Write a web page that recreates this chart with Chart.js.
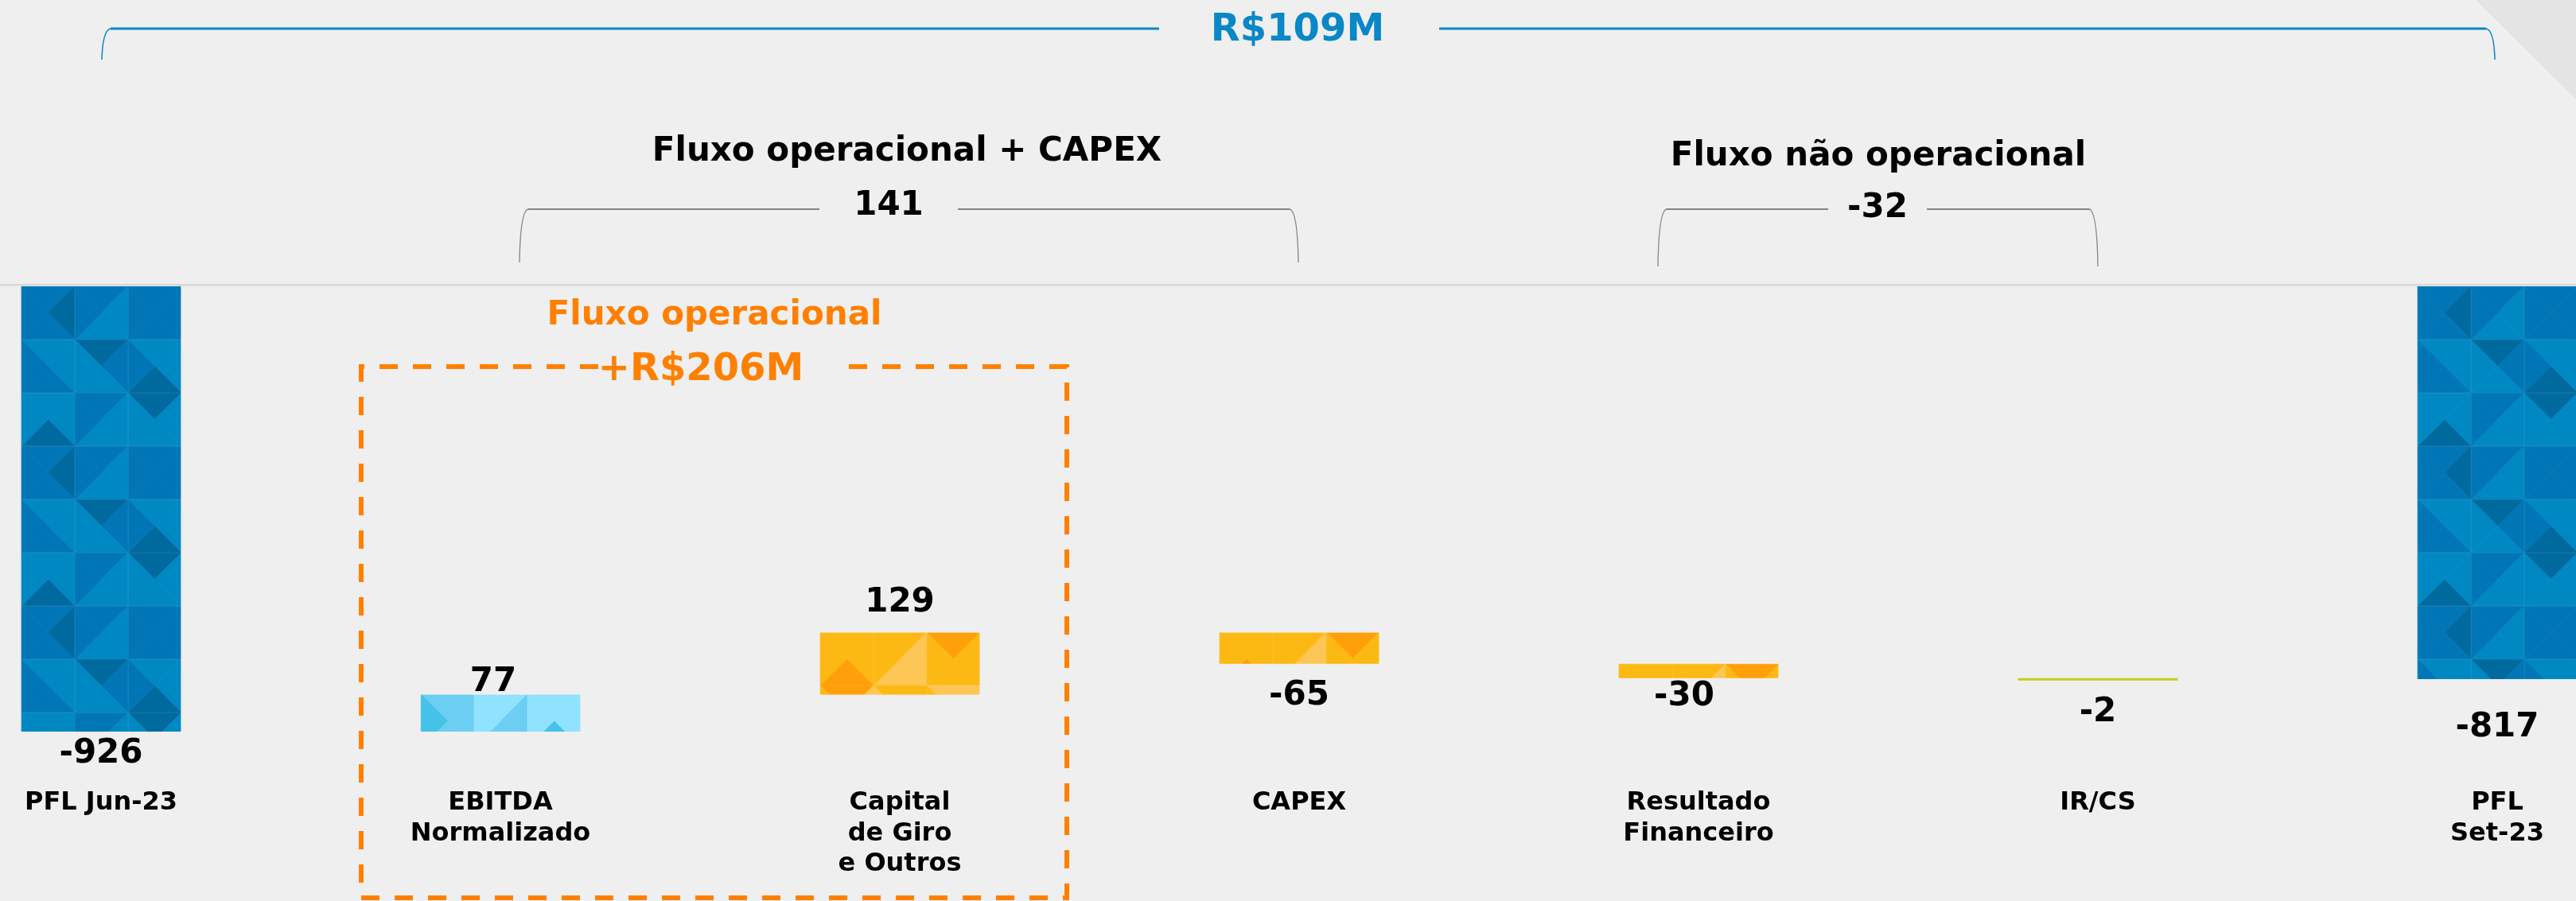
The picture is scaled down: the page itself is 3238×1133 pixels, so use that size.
<!DOCTYPE html>
<html>
<head>
<meta charset="utf-8">
<script src="https://cdn.jsdelivr.net/npm/chart.js@4.4.0/dist/chart.umd.min.js"></script>
<style>
  html, body { margin: 0; padding: 0; background: #efefef; overflow: hidden; }
  #wrap { width: 3238px; height: 1133px; }
</style>
</head>
<body>
<div id="wrap"><canvas id="bridge" width="3238" height="1133"></canvas></div>
<script>
// ponte da dívida líquida (R$ milhões)
const categories = ['PFL Jun-23', ['EBITDA', 'Normalizado'], ['Capital', 'de Giro', 'e Outros'], 'CAPEX',
                    ['Resultado', 'Financeiro'], 'IR/CS', ['PFL', 'Set-23']];
const values = [-926, 77, 129, -65, -30, -2, -817];
const isTotal = [true, false, false, false, false, false, true];

const groupTitles = ['Fluxo operacional + CAPEX', 'Fluxo não operacional'];
const groupTotals = ['141', '-32'];
const totalChange = 'R$109M';
const operationalBox = ['Fluxo operacional', '+R$206M'];

// barras flutuantes: totais partem do zero, variações partem do acumulado
let running = 0;
const ranges = values.map((v, i) => {
  if (isTotal[i]) { running = v; return [0, v]; }
  const start = running;
  running += v;
  return [start, running];
});

const FONT = 'DejaVu Sans';

// mosaico de triângulos (cada célula dividida pelas diagonais: topo, dir, base, esq)
function makeTile(grid, colours, cell) {
  const c = document.createElement('canvas');
  c.width = cell * 3;
  c.height = cell * grid.length;
  const g = c.getContext('2d');
  grid.forEach((row, r) => row.forEach((q, k) => {
    const x0 = k * cell, y0 = r * cell, cx = x0 + cell / 2, cy = y0 + cell / 2;
    const pts = [[x0, y0], [x0 + cell, y0], [x0 + cell, y0 + cell], [x0, y0 + cell]];
    for (let t = 0; t < 4; t++) {
      const a = pts[t], b = pts[(t + 1) % 4];
      g.beginPath();
      g.moveTo(a[0], a[1]); g.lineTo(b[0], b[1]); g.lineTo(cx, cy); g.closePath();
      g.fillStyle = colours[q[t]];
      g.strokeStyle = colours[q[t]];
      g.lineWidth = 0.6;
      g.fill(); g.stroke();
    }
    g.strokeStyle = 'rgba(255,255,255,0.07)';
    g.lineWidth = 1;
    g.strokeRect(x0 + 0.5, y0 + 0.5, cell - 1, cell - 1);
  }));
  return c;
}

const blueTile = makeTile([
  [[0, 2, 0, 0], [0, 1, 1, 0], [0, 0, 0, 0]],
  [[1, 1, 0, 0], [2, 0, 1, 1], [1, 1, 2, 0]],
  [[1, 1, 2, 1], [0, 1, 1, 0], [2, 1, 1, 1]]
], ['#0076b6', '#0088c3', '#006a9e'], 67);

const yellowTile = makeTile([
  [[0, 0, 2, 0], [0, 1, 1, 0], [2, 0, 0, 0]],
  [[2, 1, 0, 0], [0, 0, 0, 1], [1, 1, 0, 0]],
  [[0, 0, 0, 0], [1, 0, 0, 0], [0, 2, 0, 0]]
], ['#fdb913', '#fec655', '#ffa00a'], 67);

const skyTile = makeTile([
  [[0, 0, 0, 2], [1, 0, 0, 1], [1, 1, 2, 1]],
  [[1, 1, 0, 0], [0, 2, 0, 0], [2, 1, 1, 0]],
  [[0, 0, 1, 1], [1, 1, 0, 0], [0, 0, 0, 2]]
], ['#6bcef2', '#8fe3fe', '#45c2e8'], 67);

const ctx = document.getElementById('bridge').getContext('2d');
const pat = t => ctx.createPattern(t, 'repeat');
const barFills = [pat(blueTile), pat(skyTile), pat(yellowTile), pat(yellowTile), pat(yellowTile), '#c6cb16', pat(blueTile)];

// alinha cada mosaico ao canto superior esquerdo da sua barra
const alignPatterns = {
  id: 'alignPatterns',
  beforeDatasetsDraw(chart) {
    chart.getDatasetMeta(0).data.forEach((bar, i) => {
      const fill = barFills[i];
      if (fill instanceof CanvasPattern) {
        const left = bar.x - bar.width / 2, top = Math.min(bar.y, bar.base);
        fill.setTransform(new DOMMatrix().translate(Math.round(left), Math.round(top)));
      }
    });
  }
};

const labelDx = [0, -9, 0, 0, -18, 0, 0];
const labelGap = [24, 19, 41, 36, 19, 36, 57];

const valueLabels = {
  id: 'valueLabels',
  afterDatasetsDraw(chart) {
    const c = chart.ctx;
    c.save();
    c.font = 'bold 42px "' + FONT + '"';
    c.fillStyle = '#000';
    c.textAlign = 'center';
    c.textBaseline = 'alphabetic';
    chart.getDatasetMeta(0).data.forEach((bar, i) => {
      const top = Math.min(bar.y, bar.base), bottom = Math.max(bar.y, bar.base);
      const mid = values[i] > 0 ? top - labelGap[i] : bottom + labelGap[i];
      c.fillText(String(values[i]), bar.x + labelDx[i], mid + 15);
    });
    c.restore();
  }
};

function bracket(c, x1, x2, yTop, yLeg, gapFrom, gapTo, colour, w) {
  c.strokeStyle = colour;
  c.lineWidth = w;
  c.beginPath();
  c.moveTo(x1 + 11, yTop); c.lineTo(gapFrom, yTop);
  c.moveTo(gapTo, yTop); c.lineTo(x2 - 11, yTop);
  c.stroke();
  c.lineWidth = Math.max(1.3, w * 0.55);
  c.beginPath();
  c.moveTo(x1, yLeg); c.quadraticCurveTo(x1 + 1, yTop + 2, x1 + 11, yTop);
  c.moveTo(x2, yLeg); c.quadraticCurveTo(x2 - 1, yTop + 2, x2 - 11, yTop);
  c.stroke();
}

const decorations = {
  id: 'decorations',
  beforeDraw(chart) {
    const c = chart.ctx, W = chart.width;
    c.save();
    c.fillStyle = '#efefef';
    c.fillRect(0, 0, W, chart.height);
    c.fillStyle = '#e4e4e4';
    c.beginPath(); c.moveTo(3112, 0); c.lineTo(W, 0); c.lineTo(W, 125); c.closePath(); c.fill();
    const y0 = chart.scales.y.getPixelForValue(0);
    c.fillStyle = '#d8d8d8';
    c.fillRect(0, y0 - 3, W, 2.5);
    c.restore();
  },
  afterDraw(chart) {
    const c = chart.ctx;
    c.save();
    c.textAlign = 'center';
    c.textBaseline = 'alphabetic';

    // variação total
    bracket(c, 128, 3136, 36, 75, 1457, 1809, '#0a87c7', 2.8);
    c.fillStyle = '#0a87c7';
    c.font = 'bold 48px "' + FONT + '"';
    c.fillText(totalChange, 1631, 51);

    // grupos
    bracket(c, 653, 1632, 263, 330, 1030, 1204, '#858585', 2.2);
    bracket(c, 2084, 2637, 263, 335, 2298, 2422, '#858585', 2.2);
    c.fillStyle = '#000';
    c.font = 'bold 42px "' + FONT + '"';
    c.fillText(groupTitles[0], 1140, 202);
    c.fillText(groupTitles[1], 2361, 208);
    c.fillText(groupTotals[0], 1117, 270);
    c.fillText(groupTotals[1], 2360, 273);

    // fluxo operacional
    c.strokeStyle = '#ff8000';
    c.lineWidth = 6;
    c.setLineDash([23, 19]);
    c.beginPath();
    c.moveTo(752, 461); c.lineTo(454, 461); c.lineTo(454, 1129);
    c.lineTo(1341, 1129); c.lineTo(1341, 461); c.lineTo(1065, 461);
    c.stroke();
    c.setLineDash([]);
    c.fillStyle = '#ff8000';
    c.font = 'bold 42px "' + FONT + '"';
    c.fillText(operationalBox[0], 898, 408);
    c.font = 'bold 48px "' + FONT + '"';
    c.fillText(operationalBox[1], 881, 478);
    c.restore();
  }
};

new Chart(ctx, {
  type: 'bar',
  data: {
    labels: categories,
    datasets: [{
      data: ranges,
      backgroundColor: barFills,
      borderWidth: 0,
      minBarLength: 3,
      categoryPercentage: 0.8,
      barPercentage: 0.5,
      clip: false
    }]
  },
  options: {
    responsive: false,
    animation: false,
    layout: { padding: { top: 360, bottom: 13, left: 127, right: 99 } },
    plugins: { legend: { display: false }, tooltip: { enabled: false } },
    scales: {
      x: {
        offset: false,
        grid: { display: false, drawTicks: false },
        border: { display: false },
        ticks: {
          color: '#000',
          padding: 14,
          maxRotation: 0,
          autoSkip: false,
          font: { family: FONT, size: 32, weight: 'bold', lineHeight: 1.2 }
        }
      },
      y: { display: false, min: -1020, max: 0 }
    }
  },
  plugins: [decorations, alignPatterns, valueLabels]
});
</script>
</body>
</html>
